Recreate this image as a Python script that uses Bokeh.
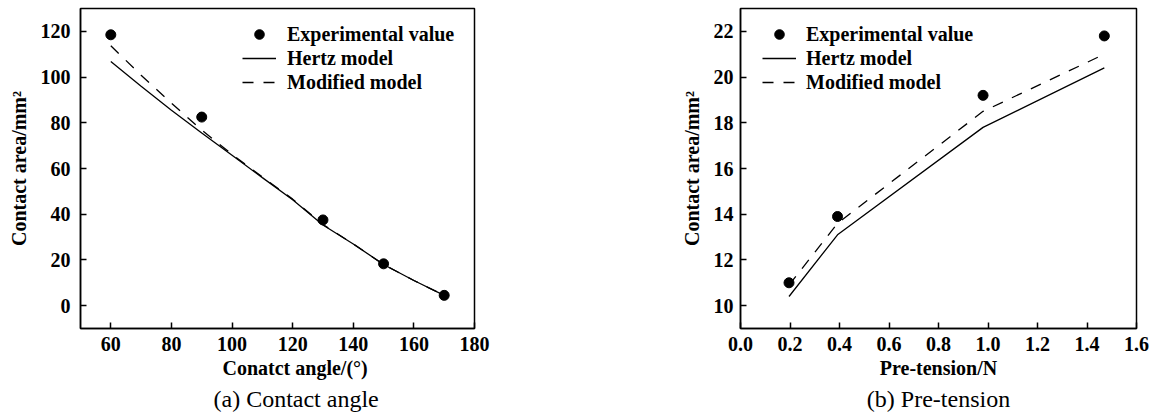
from bokeh.plotting import figure
from bokeh.layouts import row
from bokeh.models import Legend, LegendItem, FixedTicker, Title
from bokeh.embed import file_html
from bokeh.resources import INLINE

# ---------------- data: (a) contact angle ----------------
angle_exp = [60, 90, 130, 150, 170]
area_exp_a = [118.5, 82.5, 37.5, 18.3, 4.5]
angle_model = [60, 70, 80, 90, 100, 110, 120, 130, 140, 150, 160, 170]
hertz_a = [106.8, 96.0, 85.5, 75.5, 65.8, 56.0, 46.3, 35.3, 27.0, 18.0, 11.0, 4.5]
modified_a = [113.7, 100.8, 88.6, 76.8, 66.2, 56.3, 46.6, 35.5, 27.0, 18.0, 11.0, 4.5]
xticks_a = [60, 80, 100, 120, 140, 160, 180]
yticks_a = [0, 20, 40, 60, 80, 100, 120]

# ---------------- data: (b) pre-tension ----------------
tension = [0.196, 0.392, 0.98, 1.47]
area_exp_b = [11.0, 13.9, 19.2, 21.8]
hertz_b = [10.4, 13.1, 17.8, 20.4]
modified_b = [10.9, 13.6, 18.5, 21.0]
xticks_b = [0.0, 0.2, 0.4, 0.6, 0.8, 1.0, 1.2, 1.4, 1.6]
xtick_labels_b = ["0.0", "0.2", "0.4", "0.6", "0.8", "1.0", "1.2", "1.4", "1.6"]
yticks_b = [10, 12, 14, 16, 18, 20, 22]

legend_labels = ["Experimental value", "Hertz model", "Modified model"]
ylabel = "Contact area/mm\u00b2"
xlabel_a = "Conatct angle/(\u00b0)"
xlabel_b = "Pre-tension/N"
caption_a = "(a) Contact angle"
caption_b = "(b) Pre-tension"

FONT = "Liberation Serif"
FS = "20px"
H = 419
DASH = "11 10"


def style(p, xt, yt, ystand):
    p.outline_line_color = "black"
    p.outline_line_width = 1.5
    p.outline_line_alpha = 1.0
    p.xgrid.visible = False
    p.ygrid.visible = False
    p.background_fill_color = "white"
    p.border_fill_color = "white"
    for ax in (p.xaxis[0], p.yaxis[0]):
        ax.axis_line_color = "black"
        ax.axis_line_width = 1.5
        ax.major_tick_line_color = "black"
        ax.major_tick_line_width = 1.5
        ax.major_tick_in = 6
        ax.major_tick_out = 0
        ax.minor_tick_line_color = None
        ax.major_label_text_font = FONT
        ax.major_label_text_font_size = FS
        ax.major_label_text_font_style = "bold"
        ax.major_label_text_color = "black"
        ax.axis_label_text_font = FONT
        ax.axis_label_text_font_size = FS
        ax.axis_label_text_font_style = "bold"
        ax.axis_label_text_color = "black"
    p.xaxis[0].ticker = FixedTicker(ticks=xt)
    p.yaxis[0].ticker = FixedTicker(ticks=yt)
    p.xaxis[0].major_label_standoff = 8
    p.yaxis[0].major_label_standoff = ystand
    p.yaxis[0].axis_label = ylabel
    p.yaxis[0].axis_label_standoff = 8


def add_legend(p, renderers, loc, standoff):
    items = [LegendItem(label=l, renderers=[r]) for l, r in zip(legend_labels, renderers)]
    lg = Legend(items=items, location=loc)
    lg.border_line_color = None
    lg.background_fill_alpha = 0
    lg.padding = 0
    lg.margin = 0
    lg.spacing = 0
    lg.glyph_width = 34
    lg.glyph_height = 24
    lg.label_height = 24
    lg.label_standoff = standoff
    lg.label_text_font = FONT
    lg.label_text_font_size = FS
    lg.label_text_font_style = "bold"
    lg.label_text_color = "black"
    p.add_layout(lg, "center")


def add_titles(p, xlabel, cap, align, off1, off2):
    p.add_layout(Title(text=xlabel, align=align, offset=off1, text_font=FONT,
                       text_font_size=FS, text_font_style="bold", text_color="black",
                       standoff=2), "below")
    p.add_layout(Title(text=cap, align=align, offset=off2, text_font=FONT,
                       text_font_size="24px", text_font_style="normal", text_color="black",
                       standoff=9), "below")


# ---------------- panel (a) ----------------
p1 = figure(width=600, height=H, x_range=(50, 180), y_range=(-10, 130),
            output_backend="svg", toolbar_location=None,
            min_border_left=80, min_border_right=126, min_border_top=8,
            min_border_bottom=H - 328)
style(p1, xticks_a, yticks_a, 10)
r1 = p1.scatter(angle_exp, area_exp_a, size=10, color="black")
r2 = p1.line(angle_model, hertz_a, line_color="black", line_width=1.3)
r3 = p1.line(angle_model, modified_a, line_color="black", line_width=1.3, line_dash=DASH)
add_legend(p1, [r1, r2, r3], (162, 234), 11)
add_titles(p1, xlabel_a, caption_a, "left", 142, 133)

# ---------------- panel (b) ----------------
p2 = figure(width=556, height=H, x_range=(0, 1.6), y_range=(9, 23),
            output_backend="svg", toolbar_location=None,
            min_border_left=140, min_border_right=20, min_border_top=8,
            min_border_bottom=H - 328)
style(p2, xticks_b, yticks_b, 7)
p2.xaxis[0].major_label_overrides = {t: s for t, s in zip(xticks_b, xtick_labels_b)}
s1 = p2.scatter(tension, area_exp_b, size=10, color="black")
s2 = p2.line(tension, hertz_b, line_color="black", line_width=1.3)
s3 = p2.line(tension, modified_b, line_color="black", line_width=1.3, line_dash=DASH)
add_legend(p2, [s1, s2, s3], (22, 234), 10)
add_titles(p2, xlabel_b, caption_b, "center", 0, 0)

layout = row(p1, p2)
open("out.html", "w").write(file_html(layout, INLINE))
